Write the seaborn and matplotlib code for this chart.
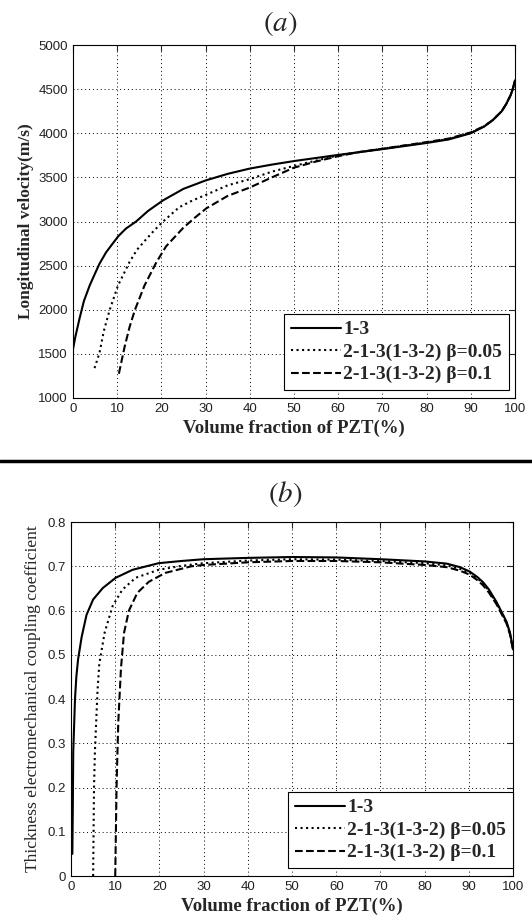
import matplotlib
matplotlib.use("Agg")
import matplotlib.pyplot as plt
import seaborn as sns
import pandas as pd
from matplotlib.lines import Line2D

# (a) longitudinal velocity (m/s) vs volume fraction of PZT (%)
vf_13_a = [0, 0.5, 1, 1.5, 2.5, 3.8, 5, 6, 7.5, 9, 10.3, 12, 14.3, 17, 20.4, 25, 30, 35, 40, 45, 50,
           60, 70, 80, 85, 90, 93, 95, 97, 98, 99, 99.5, 100]
vel_13 = [1545, 1680, 1790, 1900, 2100, 2275, 2410, 2520, 2650, 2750, 2835, 2920, 3000, 3120, 3240,
          3370, 3465, 3540, 3600, 3645, 3685, 3755, 3820, 3890, 3930, 4000, 4075, 4150, 4250, 4330,
          4430, 4500, 4600]
vf_005_a = [4.9, 6, 7, 8.3, 10.2, 12.8, 14.5, 16.6, 18.5, 20.4, 24, 27.1, 30, 35, 40, 45, 50, 60, 70,
            80, 85, 90, 93, 95, 97, 98, 99, 99.5, 100]
vel_005 = [1339, 1507, 1760, 1994, 2275, 2540, 2680, 2800, 2905, 3000, 3160, 3240, 3300, 3410, 3480,
           3565, 3630, 3750, 3825, 3895, 3935, 4005, 4078, 4150, 4250, 4330, 4430, 4500, 4600]
vf_01_a = [10.4, 11.7, 12.8, 14, 16.2, 18.9, 21.1, 24.9, 27.5, 30.2, 35, 40, 45, 50, 55, 60, 65, 70,
           80, 85, 90, 93, 95, 97, 98, 99, 99.5, 100]
vel_01 = [1275, 1580, 1800, 1994, 2275, 2540, 2720, 2925, 3040, 3150, 3290, 3385, 3500, 3610, 3680,
          3740, 3790, 3825, 3900, 3940, 4010, 4080, 4150, 4250, 4330, 4430, 4500, 4600]

# (b) thickness electromechanical coupling coefficient
vf_13_b = [0.3, 0.4, 0.5, 0.7, 0.9, 1.2, 1.6, 2.4, 3.5, 5, 7.2, 10.1, 13.9, 19.8, 25, 30, 40, 50, 60,
           70, 80, 85, 88, 90.2, 92, 93.2, 94.5, 96.2, 97.5, 98.5, 99.3, 100]
kt_13 = [0.05, 0.15, 0.28, 0.34, 0.4, 0.45, 0.49, 0.54, 0.59, 0.625, 0.651, 0.674, 0.692, 0.707,
         0.712, 0.716, 0.719, 0.721, 0.72, 0.716, 0.711, 0.706, 0.698, 0.688, 0.675, 0.664, 0.648,
         0.62, 0.595, 0.575, 0.55, 0.512]
vf_005_b = [5.0, 5.1, 5.2, 5.4, 5.7, 6.0, 6.4, 7.6, 9.4, 11.6, 14.6, 19.8, 25, 30, 40, 50, 60, 70, 80,
            85, 88, 90.2, 92, 93.2, 94.5, 96.2, 97.5, 98.5, 99.3, 100]
kt_005 = [0.0, 0.1, 0.2, 0.28, 0.35, 0.42, 0.48, 0.55, 0.61, 0.647, 0.674, 0.692, 0.701, 0.707, 0.713,
          0.716, 0.715, 0.712, 0.707, 0.702, 0.694, 0.685, 0.672, 0.661, 0.645, 0.618, 0.593, 0.573,
          0.548, 0.51]
vf_01_b = [10.0, 10.15, 10.3, 10.5, 10.7, 11.3, 12.0, 13.1, 15, 17.6, 21.3, 27.2, 30, 40, 50, 60, 70,
           80, 85, 88, 90.2, 92, 93.2, 94.5, 96.2, 97.5, 98.5, 99.3, 100]
kt_01 = [0.0, 0.1, 0.2, 0.28, 0.35, 0.47, 0.55, 0.6, 0.64, 0.665, 0.685, 0.70, 0.703, 0.709, 0.712,
         0.712, 0.709, 0.703, 0.698, 0.69, 0.681, 0.668, 0.657, 0.641, 0.615, 0.59, 0.571, 0.546, 0.51]

labels = ["1-3", "2-1-3(1-3-2) β=0.05", "2-1-3(1-3-2) β=0.1"]
styles = ["-", ":", "--"]

sns.set_style("white")
plt.rcParams['font.family'] = ['Liberation Sans', 'DejaVu Sans']
plt.rcParams['mathtext.fontset'] = 'stix'

fig = plt.figure(figsize=(5.32, 9.23), dpi=100)
ax_a = fig.add_axes([0.137, 0.5688, 0.831, 0.3824])
ax_b = fig.add_axes([0.1335, 0.0509, 0.831, 0.3835])

serif = ['Liberation Serif', 'DejaVu Serif']


def draw(ax, series, ylim, yticks, ylabel, ybold, legend_anchor):
    for (x, y), lab, ls in zip(series, labels, styles):
        df = pd.DataFrame({"x": x, "y": y})
        sns.lineplot(data=df, x="x", y="y", ax=ax, color="black", linestyle=ls,
                     linewidth=1.5, label=lab, sort=False)
    ax.set_xlim(0, 100)
    ax.set_ylim(*ylim)
    ax.set_xticks(range(0, 101, 10))
    ax.set_yticks(yticks)
    ax.grid(True, color="black", linestyle=(0, (1, 3)), linewidth=0.7)
    ax.tick_params(direction="in", top=True, right=True, labelsize=9.5, length=4, width=0.8,
                   labelcolor="#222222")
    for s in ax.spines.values():
        s.set_color("black")
        s.set_linewidth(0.8)
    ax.set_xlabel("Volume fraction of PZT(%)", family=serif, fontsize=13.5, fontweight="bold")
    ax.set_ylabel(ylabel, family=serif, fontsize=12.5 if ybold else 12.6,
                  fontweight="bold" if ybold else "normal")
    leg = ax.legend(loc="lower right", bbox_to_anchor=legend_anchor, borderaxespad=0,
                    fancybox=False, edgecolor="black", framealpha=1, handlelength=2.6,
                    handletextpad=0.1, labelspacing=0.25, borderpad=0.35,
                    prop={"family": serif, "weight": "bold", "size": 14})
    leg.get_frame().set_linewidth(0.8)


draw(ax_a, [(vf_13_a, vel_13), (vf_005_a, vel_005), (vf_01_a, vel_01)],
     (1000, 5000), range(1000, 5001, 500), "Longitudinal velocity(m/s)", True, (0.986, 0.022))
ax_a.yaxis.set_label_coords(-0.088, 0.5)
ax_a.xaxis.set_label_coords(0.5, -0.062)

draw(ax_b, [(vf_13_b, kt_13), (vf_005_b, kt_005), (vf_01_b, kt_01)],
     (0, 0.8), [0, 0.1, 0.2, 0.3, 0.4, 0.5, 0.6, 0.7, 0.8],
     "Thickness electromechanical coupling coefficient", False, (1.0, 0.022))
ax_b.set_yticklabels(["0", "0.1", "0.2", "0.3", "0.4", "0.5", "0.6", "0.7", "0.8"])
ax_b.yaxis.set_label_coords(-0.068, 0.5)
ax_b.xaxis.set_label_coords(0.5, -0.062)

fig.text(280 / 532, 1 - 24 / 923, "$(a)$", ha="center", va="center", fontsize=21)
fig.text(285 / 532, 1 - 494 / 923, "$(b)$", ha="center", va="center", fontsize=21)
fig.add_artist(Line2D([0, 1], [1 - 461 / 923, 1 - 461 / 923], color="black", linewidth=2.5,
                      transform=fig.transFigure))

fig.savefig("out.png", dpi=100)
